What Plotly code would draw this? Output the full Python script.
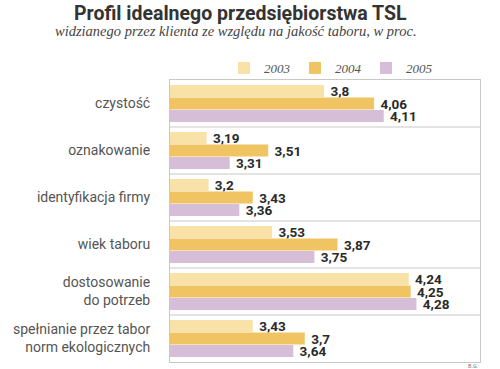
import plotly.graph_objects as go

categories = ["czystość", "oznakowanie", "identyfikacja firmy", "wiek taboru",
              "dostosowanie<br>do potrzeb", "spełnianie przez tabor<br>norm ekologicznych"]
years = ["2003", "2004", "2005"]
v2003 = [3.8, 3.19, 3.2, 3.53, 4.24, 3.43]
v2004 = [4.06, 3.51, 3.43, 3.87, 4.25, 3.7]
v2005 = [4.11, 3.31, 3.36, 3.75, 4.28, 3.64]
colors = ["#F9E2A8", "#F0C462", "#D6BDD8"]

W, H = 500, 369
L, R, T, B = 170, 20, 80, 7
pw, ph = W - L - R, H - T - B

idx = list(range(len(categories)))
fig = go.Figure()
for name, vals, col in zip(years, [v2003, v2004, v2005], colors):
    fig.add_trace(go.Bar(
        y=idx, x=[v - 3.0 for v in vals], base=3.0, orientation="h", name=name,
        marker=dict(color=col, line=dict(width=0)),
        text=["\u00a0" + f"{v:g}".replace(".", ",") for v in vals],
        textposition="outside", cliponaxis=False, constraintext="none",
        textfont=dict(family="Roboto", size=13.5, color="#2a2a2a", weight="bold"),
    ))

sep_lines = [dict(type="line", xref="paper", yref="y", x0=0, x1=1, y0=i + 0.5, y1=i + 0.5,
                  line=dict(color="#c8c8c8", width=1)) for i in idx[:-1]]

fig.update_layout(
    width=W, height=H, barmode="group", bargap=0.2, bargroupgap=0.04,
    plot_bgcolor="white", paper_bgcolor="white",
    margin=dict(l=L, r=R, t=T, b=B, autoexpand=False),
    shapes=sep_lines,
    xaxis=dict(range=[3.0, 4.61], showticklabels=False, showgrid=False, zeroline=False,
               showline=True, linecolor="#c8c8c8", mirror=True, ticks=""),
    yaxis=dict(tickvals=idx, ticktext=categories, range=[len(idx) - 0.5, -0.5],
               showgrid=False, zeroline=False, showline=True, linecolor="#c8c8c8",
               mirror=True, ticks="", ticklabelstandoff=16,
               tickfont=dict(family="Roboto", size=14, color="#555555")),
    legend=dict(orientation="h", x=(224 - L) / pw, y=1 - 68 / H, yref="container",
                yanchor="middle", xanchor="left", entrywidth=26, itemwidth=30,
                traceorder="normal",
                font=dict(family="Liberation Serif", size=13, color="#555555", style="italic"),
                bgcolor="rgba(0,0,0,0)"),
    showlegend=True,
)
fig.add_annotation(text="<b>Profil idealnego przedsiębiorstwa TSL</b>", xref="paper", yref="paper",
                   x=(240 - L) / pw, y=1 + (T - 13) / ph, xanchor="center", yanchor="middle",
                   showarrow=False, font=dict(family="Roboto", size=19.5, color="#333333"))
fig.add_annotation(text="widzianego przez klienta ze względu na jakość taboru, w proc.",
                   xref="paper", yref="paper", x=(236 - L) / pw, y=1 + (T - 31) / ph,
                   xanchor="center", yanchor="middle", showarrow=False,
                   font=dict(family="Liberation Serif", size=14.5, color="#444444", style="italic"))
fig.add_annotation(text="B.G.", xref="paper", yref="paper", x=(473 - L) / pw, y=-3.5 / ph,
                   xanchor="center", yanchor="middle", showarrow=False, borderpad=0,
                   font=dict(family="Roboto", size=5.5, color="#777777"))

fig.write_html("out.html", config={"displayModeBar": False},
               post_script="document.body.style.margin='0';")
